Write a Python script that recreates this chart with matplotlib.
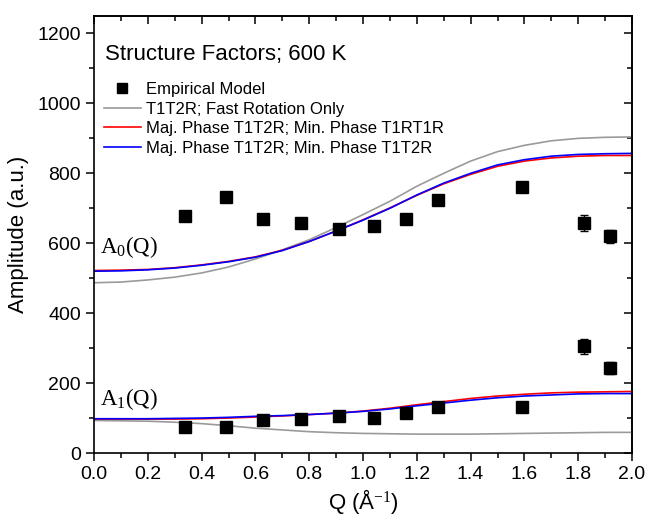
import matplotlib
matplotlib.use("Agg")
import matplotlib.pyplot as plt
from matplotlib.lines import Line2D
from matplotlib.ticker import MultipleLocator, NullFormatter

plt.rcParams['font.family'] = ['Liberation Sans', 'DejaVu Sans']
plt.rcParams['mathtext.fontset'] = 'custom'
plt.rcParams['mathtext.rm'] = 'Liberation Serif'
plt.rcParams['mathtext.it'] = 'Liberation Serif:italic'

# Empirical model points
q_pts = [0.34, 0.49, 0.63, 0.77, 0.91, 1.04, 1.16, 1.28, 1.59, 1.82, 1.92]
a0_pts = [679, 733, 669, 657, 642, 650, 668, 723, 760, 658, 620]
a0_err = [4, 4, 4, 4, 4, 4, 4, 4, 4, 22, 19]
a1_pts = [75, 75, 93, 97, 106, 101, 113, 133, 131, 305, 243]
a1_err = [4, 4, 4, 4, 4, 4, 4, 4, 4, 21, 17]

# Model curves
q_curve = [0.0, 0.1, 0.2, 0.3, 0.4, 0.5, 0.6, 0.7, 0.8, 0.9, 1.0,
           1.1, 1.2, 1.3, 1.4, 1.5, 1.6, 1.7, 1.8, 1.9, 2.0]
a0_gray = [487, 489, 495, 503, 515, 532, 555, 581, 610, 645, 682,
           720, 763, 800, 835, 862, 880, 893, 900, 903, 904]
a0_red = [522, 523, 525, 530, 538, 548, 561, 580, 605, 635, 667,
          701, 737, 770, 797, 820, 835, 844, 849, 851, 851]
a0_blue = [520, 521, 524, 529, 537, 547, 560, 579, 605, 635, 666,
           700, 738, 772, 800, 824, 839, 849, 854, 856, 857]
a1_gray = [93, 92, 91, 88, 84, 78, 71, 66, 61, 58, 56,
           55, 54, 54, 54, 55, 56, 57, 58, 59, 59]
a1_red = [97, 97, 97, 97, 98, 100, 103, 106, 110, 114, 120,
          128, 138, 147, 156, 163, 168, 172, 174, 175, 176]
a1_blue = [98, 98, 98, 99, 100, 102, 105, 107, 110, 114, 119,
           126, 135, 143, 151, 158, 163, 166, 169, 170, 170]

labels = ["Empirical Model", "T1T2R; Fast Rotation Only",
          "Maj. Phase T1T2R; Min. Phase T1RT1R",
          "Maj. Phase T1T2R; Min. Phase T1T2R"]

fig = plt.figure(figsize=(6.46, 5.23), dpi=100)
ax = fig.add_axes([94/646, 1-453/523, (632-94)/646, (453-16)/523])

lw = 1.2
lg, = ax.plot(q_curve, a0_gray, color='#9a9a9a', lw=lw)
ax.plot(q_curve, a1_gray, color='#9a9a9a', lw=lw)
lr, = ax.plot(q_curve, a0_red, color='#ff0000', lw=lw)
ax.plot(q_curve, a1_red, color='#ff0000', lw=lw)
lb, = ax.plot(q_curve, a0_blue, color='#0000ff', lw=lw)
ax.plot(q_curve, a1_blue, color='#0000ff', lw=lw)

ms = 8
ax.errorbar(q_pts, a0_pts, yerr=a0_err, fmt='s', color='black',
            ms=ms, capsize=3, elinewidth=1, capthick=1, zorder=5)
ax.errorbar(q_pts, a1_pts, yerr=a1_err, fmt='s', color='black',
            ms=ms, capsize=3, elinewidth=1, capthick=1, zorder=5)
sq = Line2D([], [], ls='none', marker='s', color='black', ms=7)

ax.set_xlim(0, 2.0)
ax.set_ylim(0, 1250)
ax.xaxis.set_major_locator(MultipleLocator(0.2))
ax.xaxis.set_minor_locator(MultipleLocator(0.1))
ax.yaxis.set_major_locator(MultipleLocator(200))
ax.yaxis.set_minor_locator(MultipleLocator(100))
ax.set_xticklabels([f"{v:.1f}" for v in ax.get_xticks()])
ax.tick_params(which='major', direction='out', length=6, width=1.1, labelsize=14)
ax.tick_params(which='minor', direction='out', length=3.5, width=1.1)
for s in ax.spines.values():
    s.set_linewidth(1.2)

secx = ax.secondary_xaxis('top')
secx.xaxis.set_major_locator(MultipleLocator(0.2))
secx.xaxis.set_minor_locator(MultipleLocator(0.1))
secx.tick_params(which='major', direction='in', length=6, width=1.1, labeltop=False)
secx.tick_params(which='minor', direction='in', length=3.5, width=1.1)
secx.xaxis.set_major_formatter(NullFormatter())
secy = ax.secondary_yaxis('right')
secy.yaxis.set_major_locator(MultipleLocator(200))
secy.yaxis.set_minor_locator(MultipleLocator(100))
secy.tick_params(which='major', direction='in', length=6, width=1.1, labelright=False)
secy.tick_params(which='minor', direction='in', length=3.5, width=1.1)
secy.yaxis.set_major_formatter(NullFormatter())
for sec in (secx, secy):
    for s in sec.spines.values():
        s.set_linewidth(1.2)

ax.set_xlabel("Q (Å$^{-1}$)", fontsize=16, labelpad=3)
ax.set_ylabel("Amplitude (a.u.)", fontsize=16)
ax.yaxis.set_label_coords(-0.12, 0.5)

ax.text(105/646, 1-60/523, "Structure Factors; 600 K", transform=fig.transFigure,
        fontsize=16, va='baseline', ha='left')

ax.text(100/646, 1-253/523, r"$\mathrm{A_0(Q)}$", transform=fig.transFigure,
        fontsize=16.5, va='baseline', ha='left')
ax.text(100/646, 1-405/523, r"$\mathrm{A_1(Q)}$", transform=fig.transFigure,
        fontsize=16.5, va='baseline', ha='left')

ax.legend([sq, lg, lr, lb], labels, loc='upper left',
          bbox_to_anchor=(104/646, 1-82/523), bbox_transform=fig.transFigure,
          frameon=False, fontsize=12, labelspacing=0.28, handlelength=2.2,
          handletextpad=0.3, borderpad=0, borderaxespad=0)

fig.savefig("out.png", dpi=100)
